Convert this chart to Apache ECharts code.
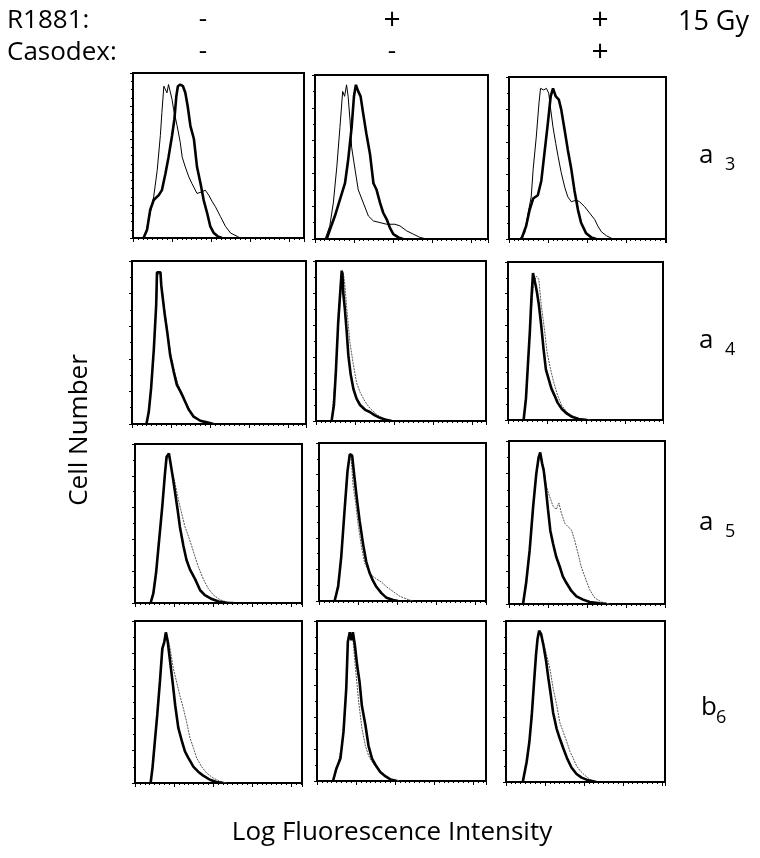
<!DOCTYPE html>
<html>
<head>
<meta charset="utf-8">
<script src="https://cdn.jsdelivr.net/npm/echarts@6/dist/echarts.min.js"></script>
<style>
  html, body { margin: 0; padding: 0; background: #fff; }
  #chart { width: 760px; height: 858px; }
</style>
</head>
<body>
<div id="chart"></div>
<script>
// x = log10 fluorescence (decades from panel left edge), y = cell count as % of panel height
// thin = control histogram, thick = stained histogram
var a3_1_thin = [[0.23,0],[0.32,2],[0.44,15],[0.53,25],[0.62,41],[0.70,62],[0.74,76],[0.79,92],[0.83,93],[0.87,88],[0.91,93],[0.96,92],[1.00,84],[1.04,78],[1.13,68],[1.21,58],[1.26,49],[1.34,43],[1.43,37],[1.51,33],[1.64,27],[1.77,28],[1.85,29],[1.94,26],[2.03,22],[2.11,19],[2.24,13],[2.37,7],[2.50,3],[2.67,1],[2.75,0]];
var a3_1_thick = [[0.27,0],[0.36,5],[0.44,17],[0.53,23],[0.66,26],[0.74,29],[0.83,39],[0.91,49],[1.00,62],[1.06,72],[1.11,86],[1.15,92],[1.21,93],[1.28,92],[1.34,88],[1.40,80],[1.47,68],[1.56,60],[1.64,43],[1.73,33],[1.81,23],[1.90,15],[1.98,7],[2.07,3],[2.17,1],[2.28,0]];
var a3_2_thin = [[0.26,0],[0.38,8],[0.47,22],[0.56,44],[0.64,68],[0.71,90],[0.76,87],[0.81,94],[0.85,87],[0.90,72],[0.94,56],[1.03,42],[1.11,30],[1.24,22],[1.37,14],[1.50,11],[1.67,10],[1.84,9],[2.05,9],[2.18,8],[2.35,5],[2.52,3],[2.69,1],[2.86,0]];
var a3_2_thick = [[0.30,0],[0.38,5.5],[0.51,14],[0.64,24],[0.77,34],[0.85,48],[0.94,68],[1.00,87],[1.05,94],[1.11,90],[1.17,87],[1.24,76],[1.32,64],[1.41,52],[1.50,34],[1.58,30],[1.67,22],[1.75,16],[1.84,12],[1.92,7],[2.01,3],[2.14,1],[2.26,0]];
var a3_3_thin = [[0.27,0],[0.40,3.5],[0.49,16],[0.57,26],[0.62,43],[0.70,63],[0.77,84],[0.81,93],[0.89,92],[0.96,93],[1.02,90],[1.07,80],[1.13,69],[1.20,59],[1.26,51],[1.34,41],[1.43,32],[1.51,26],[1.60,23],[1.73,24],[1.81,23],[1.94,20],[2.07,16],[2.20,12],[2.28,8],[2.37,4.5],[2.50,2],[2.67,0]];
var a3_3_thick = [[0.32,0],[0.44,8],[0.53,18],[0.62,25],[0.74,27],[0.83,36],[0.91,53],[1.00,72],[1.07,88],[1.13,93],[1.20,88],[1.28,86],[1.34,80],[1.43,67],[1.51,55],[1.60,43],[1.68,30],[1.77,18],[1.85,10],[1.98,3.5],[2.11,1],[2.24,0]];

var a4_1_thin = [[0.37,0],[0.44,9],[0.50,25],[0.57,49],[0.63,76],[0.66,92],[0.73,92],[0.77,83],[0.81,75],[0.86,66],[0.92,55],[1.00,42],[1.09,32],[1.17,25],[1.26,20],[1.34,15.5],[1.47,9],[1.60,4.5],[1.77,2],[1.94,0.8],[2.11,0]];
var a4_1_thick = [[0.37,0],[0.43,7.5],[0.49,22],[0.56,46],[0.62,73],[0.64,93],[0.73,93],[0.75,85],[0.79,77],[0.84,67],[0.90,57],[0.98,42],[1.07,32],[1.15,24],[1.24,20],[1.32,16],[1.45,9],[1.58,4.5],[1.75,2],[1.92,1],[2.09,0]];
var a4_2_thin = [[0.40,0],[0.49,26],[0.57,58],[0.66,87],[0.70,93],[0.74,85],[0.79,70],[0.87,49],[0.96,35],[1.04,24],[1.13,18],[1.26,12],[1.38,8],[1.56,4],[1.73,1.5],[1.94,0]];
var a4_2_thick = [[0.40,0],[0.46,10],[0.51,31],[0.57,62],[0.62,80],[0.66,94],[0.68,91],[0.70,80],[0.74,70],[0.79,55],[0.83,41],[0.89,29],[0.96,20],[1.04,14],[1.13,10],[1.26,7],[1.38,5.6],[1.51,3.5],[1.64,2],[1.77,1],[1.94,0]];
var a4_3_thin = [[0.40,0],[0.49,24],[0.57,62],[0.66,87],[0.73,91],[0.79,89],[0.85,73],[0.93,58],[1.00,43],[1.09,32],[1.17,24],[1.27,15.6],[1.38,9],[1.51,5],[1.68,2],[1.85,0.6],[2.11,0]];
var a4_3_thick = [[0.40,0],[0.46,13.5],[0.51,35],[0.56,56],[0.60,77],[0.64,93],[0.68,94],[0.71,85],[0.74,81],[0.79,73],[0.85,60],[0.91,45],[0.97,32],[1.04,26],[1.11,20],[1.19,15.6],[1.27,11],[1.38,7],[1.51,4],[1.64,2],[1.81,0.6],[2.03,0]];

var a5_1_thin = [[0.40,0],[0.51,12.5],[0.62,38],[0.73,71],[0.81,90],[0.85,94],[0.94,84],[1.03,75],[1.11,65],[1.20,56],[1.28,48],[1.37,42],[1.45,36],[1.54,29],[1.62,23],[1.75,15],[1.88,9],[2.01,5],[2.18,2],[2.35,0.6],[2.52,0]];
var a5_1_thick = [[0.40,0],[0.47,6],[0.54,19],[0.62,40],[0.70,61],[0.77,82],[0.81,92],[0.87,94],[0.91,88],[0.97,79],[1.03,69],[1.09,59],[1.15,48],[1.24,36],[1.32,27],[1.41,21],[1.54,15],[1.67,8],[1.79,5],[1.97,2.5],[2.14,1],[2.35,0.2],[2.52,0]];
var a5_2_thin = [[0.40,0],[0.53,17.5],[0.62,43],[0.70,74],[0.77,92],[0.83,89],[0.87,74],[0.94,62],[1.00,49],[1.09,34],[1.17,24],[1.26,19.5],[1.34,16.4],[1.47,14],[1.60,12],[1.73,9],[1.90,6],[2.07,3],[2.24,1.3],[2.41,0]];
var a5_2_thick = [[0.40,0],[0.49,9],[0.57,28],[0.66,59],[0.73,82],[0.79,93],[0.85,92],[0.91,78],[0.97,65],[1.04,51],[1.13,36],[1.21,25],[1.30,17.5],[1.38,13],[1.47,9],[1.60,5],[1.73,2],[1.90,0.6],[2.03,0]];
var a5_3_thin = [[0.36,0],[0.53,33],[0.70,80],[0.80,93],[0.89,84],[0.96,72],[1.04,66],[1.13,60],[1.21,58],[1.28,62],[1.34,56],[1.43,49.6],[1.51,47.5],[1.60,45.5],[1.68,39.4],[1.77,31],[1.85,23],[1.94,17],[2.07,8.8],[2.20,3.7],[2.37,1.2],[2.58,0]];
var a5_3_thick = [[0.36,0],[0.44,13],[0.53,33],[0.62,60],[0.70,80],[0.76,90],[0.80,93],[0.85,86],[0.89,82],[0.94,72],[1.00,58],[1.06,45],[1.13,37],[1.21,29],[1.30,23],[1.38,17],[1.47,13],[1.60,8],[1.73,4.7],[1.90,2.7],[2.07,1.2],[2.32,0.4],[2.50,0]];

var b6_1_thin = [[0.40,0],[0.51,26],[0.64,63],[0.73,86],[0.81,93],[0.90,83],[0.98,71],[1.07,62],[1.15,54],[1.24,46],[1.32,38],[1.41,27.7],[1.50,21.5],[1.58,15.4],[1.71,10],[1.84,6],[2.01,3],[2.18,1],[2.35,0]];
var b6_1_thick = [[0.40,0],[0.45,9.6],[0.51,26],[0.57,42],[0.64,63],[0.70,83],[0.75,87],[0.79,93],[0.84,87],[0.90,75],[0.97,61],[1.03,48],[1.11,34],[1.20,26],[1.28,19.5],[1.37,15.4],[1.50,10],[1.62,7],[1.75,4.5],[1.92,2],[2.09,0.6],[2.26,0]];
var b6_2_thin = [[0.41,0],[0.51,8],[0.64,22],[0.73,50],[0.79,85],[0.84,93],[0.92,89],[0.98,72],[1.07,49],[1.15,33],[1.24,22],[1.32,16],[1.41,12],[1.54,7.7],[1.67,4.6],[1.79,2],[1.97,0.6],[2.14,0]];
var b6_2_thick = [[0.41,0],[0.50,8],[0.60,14],[0.68,31],[0.75,58],[0.79,87],[0.84,93],[0.88,88],[0.92,93],[0.97,85],[1.03,72],[1.09,62],[1.15,47],[1.24,35],[1.32,22],[1.41,14],[1.50,10],[1.62,5.6],[1.75,3],[1.88,1],[2.05,0]];
var b6_3_thin = [[0.43,0],[0.60,25],[0.72,62],[0.81,89],[0.87,93],[0.96,87],[1.04,79],[1.13,70],[1.21,58],[1.30,48],[1.38,37],[1.47,31],[1.56,25],[1.64,19],[1.73,14.5],[1.81,10],[1.90,7],[2.03,4],[2.15,1.7],[2.32,0]];
var b6_3_thick = [[0.43,0],[0.53,12.4],[0.60,25],[0.66,41],[0.72,62],[0.77,79],[0.81,89],[0.85,94],[0.90,92],[0.96,85],[1.03,75],[1.09,64],[1.15,54],[1.21,43],[1.30,33],[1.38,27],[1.47,21],[1.57,14.5],[1.68,9],[1.81,5],[1.94,2.7],[2.11,1],[2.32,0]];

var thinRows = [[a3_1_thin, a3_2_thin, a3_3_thin], [a4_1_thin, a4_2_thin, a4_3_thin], [a5_1_thin, a5_2_thin, a5_3_thin], [b6_1_thin, b6_2_thin, b6_3_thin]];
var thickRows = [[a3_1_thick, a3_2_thick, a3_3_thick], [a4_1_thick, a4_2_thick, a4_3_thick], [a5_1_thick, a5_2_thick, a5_3_thick], [b6_1_thick, b6_2_thick, b6_3_thick]];

// panel boxes [left, top, width, height]
var boxes = [
  [[133,73,171,165], [315,75,173,164], [509,77,157,162]],
  [[132,261,174,163], [316,261,170,160], [508,262,155,158]],
  [[135,444,167,159], [319,443,167,158], [509,441,156,163]],
  [[135,621,167,162], [317,621,169,160], [506,621,159,161]]
];
var decadePx = 39;

var grids = [], xAxes = [], yAxes = [], series = [];
var k = 0;
for (var r = 0; r < 4; r++) {
  for (var c = 0; c < 3; c++) {
    var b = boxes[r][c];
    grids.push({left: b[0], top: b[1], width: b[2], height: b[3], show: true,
      borderColor: '#000', borderWidth: 2, backgroundColor: 'transparent'});
    xAxes.push({type: 'value', gridIndex: k, min: 0, max: +(b[2] / decadePx).toFixed(2), interval: 1,
      axisLine: {show: false}, axisLabel: {show: false}, splitLine: {show: false},
      axisTick: {show: true, inside: false, length: 4, lineStyle: {color: '#000', width: 1}},
      minorTick: {show: true, splitNumber: 8, length: 2, lineStyle: {color: '#000', width: 1}}});
    yAxes.push({type: 'value', gridIndex: k, min: 0, max: 100, interval: 20,
      axisLine: {show: false}, axisLabel: {show: false}, splitLine: {show: false},
      axisTick: {show: true, inside: false, length: 3, lineStyle: {color: '#000', width: 1}},
      minorTick: {show: true, splitNumber: r === 0 && c === 0 ? 4 : 2, length: 2, lineStyle: {color: '#000', width: 1}}});
    series.push({type: 'line', xAxisIndex: k, yAxisIndex: k, data: thinRows[r][c], showSymbol: false,
      lineStyle: r === 0 ? {color: '#000', width: 1} : {color: '#555', width: 1, type: [2, 1]}, z: 2});
    series.push({type: 'line', xAxisIndex: k, yAxisIndex: k, data: thickRows[r][c], showSymbol: false,
      lineStyle: {color: '#000', width: 2.6}, z: 3});
    k++;
  }
}

var FONT = '"Open Sans", "DejaVu Sans", sans-serif';
function txt(x, y, s, size, align, extra) {
  var el = {type: 'text', x: x, y: y, style: {text: s, fill: '#000', font: '500 ' + size + 'px ' + FONT,
    textAlign: align || 'left', textVerticalAlign: 'middle', align: align || 'left', verticalAlign: 'middle'}};
  for (var p in extra) el[p] = extra[p];
  return el;
}

var graphics = [
  txt(7, 21, 'R1881:', 26),
  txt(7, 53, 'Casodex:', 26),
  txt(203, 20, '-', 26, 'center'),
  txt(392, 20, '+', 30, 'center'),
  txt(600, 20, '+', 30, 'center'),
  txt(203, 52, '-', 26, 'center'),
  txt(392, 52, '-', 26, 'center'),
  txt(600, 52, '+', 30, 'center'),
  txt(749, 22, '15 Gy', 27, 'right'),
  txt(699, 156, 'a', 26), txt(725, 165, '3', 18),
  txt(699, 341, 'a', 26), txt(725, 350, '4', 18),
  txt(699, 523, 'a', 26), txt(725, 532, '5', 18),
  txt(701, 708, 'b', 26), txt(716, 718, '6', 18),
  txt(80, 430, 'Cell Number', 26, 'center', {rotation: Math.PI / 2}),
  txt(392, 833, 'Log Fluorescence Intensity', 26, 'center')
];

var chart = echarts.init(document.getElementById('chart'));
chart.setOption({
  animation: false,
  backgroundColor: '#fff',
  grid: grids,
  xAxis: xAxes,
  yAxis: yAxes,
  series: series,
  graphic: graphics
});
</script>
</body>
</html>
